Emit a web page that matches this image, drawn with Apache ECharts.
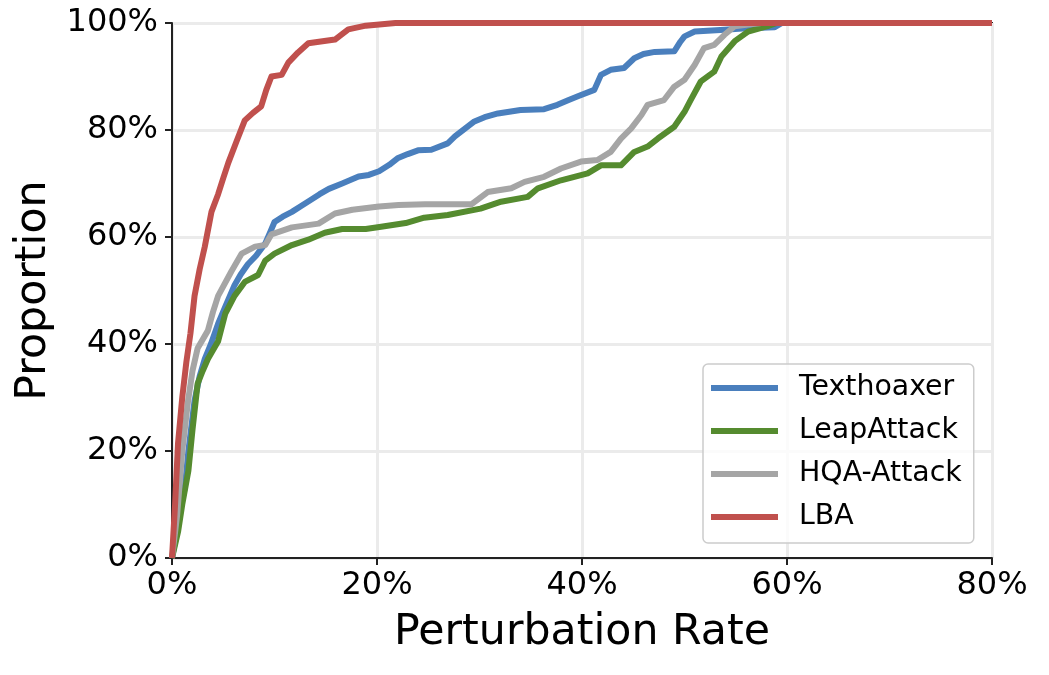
<html>
<head>
<meta charset="utf-8">
<title>Perturbation Rate</title>
<script src="https://cdn.jsdelivr.net/npm/echarts@6/dist/echarts.min.js"></script>
<style>
  html, body { margin: 0; padding: 0; background: #fff; }
  #container { width: 1049px; height: 675px; }
</style>
</head>
<body>
<div id="container"></div>
<script type="text/javascript">
// [perturbation rate %, proportion %]
var seriesNames = ['Texthoaxer', 'LeapAttack', 'HQA-Attack', 'LBA'];
var texthoaxer = [[0,0],[0.5,5],[0.9,10],[1.24,13],[1.6,20],[2.2,29.4],[2.7,34],[3.2,37.2],[3.8,40],[4.5,43.8],[5.2,47],[6.1,51],[6.7,53],[7.4,54.9],[8.2,56.5],[9.1,58.8],[9.6,61],[10.0,62.8],[10.8,63.8],[11.7,64.7],[12.6,65.8],[13.6,67],[14.4,68],[15.3,69],[16.6,70],[18.2,71.3],[19.2,71.6],[20.2,72.3],[21.2,73.5],[22.0,74.7],[23.0,75.5],[24.0,76.2],[25.3,76.3],[26.9,77.5],[27.6,78.8],[28.2,79.7],[29.5,81.6],[30.5,82.4],[31.8,83.1],[34.0,83.75],[36.3,83.9],[37.6,84.7],[38.7,85.6],[39.6,86.3],[41.2,87.5],[41.85,90.3],[42.8,91.25],[44.1,91.6],[45.1,93.4],[46.0,94.2],[47.1,94.6],[49.0,94.7],[49.6,96.5],[50.0,97.5],[51.0,98.4],[53.9,98.75],[56,99],[58.8,99.2],[59.5,100],[80,100]];
var leapAttack = [[0,0],[0.6,5],[1.0,10],[1.6,16.3],[2.0,24],[2.5,32.6],[3.0,35],[3.5,37.2],[4.5,40.5],[5.2,45.7],[6.1,49],[7.1,51.6],[8.4,52.9],[9.1,55.6],[10.0,56.9],[11.7,58.5],[13.3,59.5],[14.9,60.8],[16.6,61.5],[18.9,61.5],[20.4,61.9],[22.8,62.6],[24.6,63.6],[26.9,64.1],[30.1,65.3],[32.1,66.6],[34.7,67.5],[35.7,69.1],[37.95,70.6],[40.55,71.9],[41.85,73.4],[43.8,73.4],[45.1,75.9],[46.4,76.9],[47.4,78.4],[49.0,80.6],[50.0,83.4],[50.6,85.6],[51.6,89.1],[52.9,90.9],[53.6,93.75],[54.9,96.6],[56.2,98.4],[58.1,99.4],[59,100],[80,100]];
var hqaAttack = [[0,0],[0.5,8],[1.0,20],[1.57,29.4],[2.0,35],[2.5,39.2],[3.5,42.5],[4.0,46],[4.5,49],[5.8,53.6],[6.8,56.9],[8.1,58.2],[9.1,58.5],[9.7,60.5],[11.7,61.8],[14.3,62.5],[15.9,64.4],[17.6,65.1],[20.2,65.7],[22.1,66.0],[24.7,66.1],[29.2,66.1],[30.8,68.4],[33.1,69.1],[34.4,70.3],[36.3,71.25],[37.95,72.8],[39.9,74.1],[41.5,74.4],[42.8,75.9],[43.8,78.4],[44.8,80.3],[45.8,82.8],[46.4,84.7],[48.0,85.6],[49.0,88.1],[50.0,89.4],[51.0,92.2],[51.9,95.3],[52.9,95.9],[53.9,97.8],[54.9,99.4],[56.2,99.7],[57.5,100],[80,100]];
var lba = [[0,0],[0.3,10],[0.59,21.5],[1.0,30],[1.4,36.6],[1.8,42],[2.2,49],[2.7,54],[3.2,58.2],[3.85,64.7],[4.5,68],[5.0,71],[5.5,73.9],[6.3,77.9],[7.1,81.8],[7.9,83.2],[8.7,84.4],[9.2,87.5],[9.7,90],[10.7,90.3],[11.35,92.6],[12.3,94.5],[13.3,96.2],[15.9,96.9],[17.2,98.8],[18.9,99.5],[21.8,100],[80,100]];
var xTicks = [0, 20, 40, 60, 80];
var yTicks = [0, 20, 40, 60, 80, 100];

var colors = ['#4a7fbd', '#558b2f', '#a5a5a5', '#c0504d'];
var allData = [texthoaxer, leapAttack, hqaAttack, lba];
var font = 'DejaVu Sans';

var dom = document.getElementById("container");
var myChart = echarts.init(dom, null, {renderer: 'canvas'});
var option = {
  backgroundColor: '#fff',
  animation: false,
  color: colors,
  grid: {
    left: 172, right: 57, top: 23, bottom: 117,
    show: true, borderColor: '#222', borderWidth: 2, backgroundColor: '#fff'
  },
  legend: {
    orient: 'vertical',
    left: 703, top: 364,
    data: seriesNames,
    icon: 'rect',
    itemWidth: 67, itemHeight: 6, itemGap: 13,
    padding: [9, 12, 11, 8],
    backgroundColor: 'rgba(255,255,255,0.8)',
    borderColor: '#cccccc', borderWidth: 1.5, borderRadius: 5,
    textStyle: {fontFamily: font, fontSize: 28.4, color: '#000', lineHeight: 30, padding: [0, 0, 0, 16]}
  },
  xAxis: {
    type: 'value', min: xTicks[0], max: xTicks[xTicks.length - 1], interval: 20,
    name: 'Perturbation Rate', nameLocation: 'middle', nameGap: 53,
    nameTextStyle: {fontFamily: font, fontSize: 42.7, color: '#000'},
    axisLine: {show: true, lineStyle: {color: '#222', width: 2}},
    axisTick: {show: true, inside: false, length: 7, lineStyle: {color: '#222', width: 2}},
    axisLabel: {fontFamily: font, fontSize: 32, color: '#000', margin: 12, formatter: '{value}%'},
    splitLine: {show: true, lineStyle: {color: '#ebebeb', width: 3}}
  },
  yAxis: {
    type: 'value', min: yTicks[0], max: yTicks[yTicks.length - 1], interval: 20,
    name: 'Proportion', nameLocation: 'middle', nameGap: 116,
    nameTextStyle: {fontFamily: font, fontSize: 42.7, color: '#000'},
    axisLine: {show: true, lineStyle: {color: '#222', width: 2}},
    axisTick: {show: true, inside: false, length: 7, lineStyle: {color: '#222', width: 2}},
    axisLabel: {fontFamily: font, fontSize: 32, color: '#000', margin: 14, formatter: '{value}%'},
    splitLine: {show: true, lineStyle: {color: '#ebebeb', width: 3}}
  },
  series: seriesNames.map(function (n, i) {
    return {
      name: n, type: 'line', data: allData[i],
      showSymbol: false, symbol: 'none', smooth: false,
      lineStyle: {width: 6, color: colors[i], join: 'round'},
      z: 2 + i
    };
  })
};
myChart.setOption(option);
</script>
</body>
</html>
